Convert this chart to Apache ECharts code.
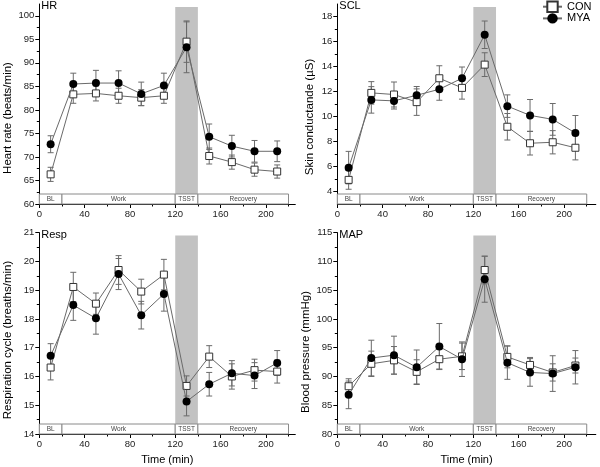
<!DOCTYPE html>
<html><head><meta charset="utf-8">
<script src="https://cdn.jsdelivr.net/npm/echarts@6/dist/echarts.min.js"></script>
<style>html,body{margin:0;padding:0;background:#fff}#c{width:600px;height:467px}</style>
</head><body><div id="c"></div>
<script>
// ---------- data ----------
const times = [10, 30, 50, 70, 90, 110, 130, 150, 170, 190, 210];

const hrCON    = [66.3, 83.3, 83.5, 83.0, 82.6, 83.0, 94.5, 70.2, 68.9, 67.3, 66.9];
const hrCONerr = [1.5, 1.9, 1.6, 1.6, 1.7, 1.6, 4.4, 1.7, 1.5, 1.4, 1.4];
const hrMYA    = [72.7, 85.5, 85.7, 85.7, 83.4, 85.2, 93.3, 74.3, 72.3, 71.2, 71.2];
const hrMYAerr = [1.8, 2.3, 2.7, 2.6, 2.5, 2.6, 5.4, 2.7, 2.3, 2.3, 2.2];

const sclCON    = [4.93, 11.89, 11.76, 11.15, 13.06, 12.29, 14.15, 9.18, 7.86, 7.94, 7.50];
const sclCONerr = [0.75, 0.9, 1.0, 1.06, 1.0, 0.9, 0.95, 1.06, 0.94, 0.93, 0.97];
const sclMYA    = [5.91, 11.33, 11.25, 11.70, 12.18, 13.06, 16.54, 10.83, 10.09, 9.77, 8.68];
const sclMYAerr = [1.3, 1.06, 0.65, 0.7, 0.88, 0.9, 1.1, 0.9, 1.27, 1.27, 1.4];

const respCON    = [16.31, 19.11, 18.53, 19.70, 18.95, 19.54, 15.67, 16.69, 16.00, 16.22, 16.17];
const respCONerr = [0.43, 0.51, 0.37, 0.5, 0.43, 0.53, 0.35, 0.38, 0.44, 0.38, 0.4];
const respMYA    = [16.72, 18.48, 18.02, 19.56, 18.13, 18.87, 15.13, 15.73, 16.11, 16.03, 16.47];
const respMYAerr = [0.42, 0.53, 0.55, 0.54, 0.48, 0.6, 0.5, 0.41, 0.44, 0.45, 0.43];

const mapCON    = [88.3, 92.2, 92.8, 90.8, 93.0, 93.5, 108.5, 93.4, 92.0, 90.7, 91.9];
const mapCONerr = [1.3, 2.2, 2.4, 2.1, 1.7, 2.3, 2.4, 1.9, 1.3, 1.5, 1.3];
const mapMYA    = [86.8, 93.2, 93.7, 91.6, 95.2, 93.0, 106.9, 92.4, 90.7, 90.5, 91.6];
const mapMYAerr = [2.4, 3.1, 3.3, 3.0, 4.0, 3.0, 4.0, 2.9, 2.4, 3.1, 2.9];

const phaseNames = ['BL', 'Work', 'TSST', 'Recovery'];
const phaseStart = [0, 20, 120, 140];
const phaseEnd   = [20, 120, 140, 220];
const stressWindow = [120, 140];

const xTicks      = [0, 40, 80, 120, 160, 200];
const xMinorTicks = [20, 60, 100, 140, 180, 220];
const hrTicks   = [60, 65, 70, 75, 80, 85, 90, 95, 100];
const hrMinor   = [62.5, 67.5, 72.5, 77.5, 82.5, 87.5, 92.5, 97.5];
const sclTicks  = [4, 6, 8, 10, 12, 14, 16, 18];
const sclMinor  = [5, 7, 9, 11, 13, 15, 17];
const respTicks = [14, 15, 16, 17, 18, 19, 20, 21];
const respMinor = [14.5, 15.5, 16.5, 17.5, 18.5, 19.5, 20.5];
const mapTicks  = [80, 85, 90, 95, 100, 105, 110, 115];
const mapMinor  = [82.5, 87.5, 92.5, 97.5, 102.5, 107.5, 112.5];

const seriesNames = ['CON', 'MYA'];

// ---------- layout / style ----------
const FONT = 'Liberation Sans, Arial, Helvetica, sans-serif';
const colL = {left: 39.3, width: 256, xMax: 226};
const colR = {left: 337.3, width: 258.5, xMax: 228};
const rowT = {top: 4, height: 200};
const rowB = {top: 232.6, height: 201.4};
const BOX_H = 10;

const panels = [
  {title: 'HR', yName: 'Heart rate (beats/min)', con: hrCON, conErr: hrCONerr, mya: hrMYA, myaErr: hrMYAerr,
   yMin: 60, yMax: 102.5, ticks: hrTicks, minor: hrMinor, col: colL, row: rowT, namePos: [8.3, 118], xName: false},
  {title: 'SCL', yName: 'Skin conductande (\u00B5S)', con: sclCON, conErr: sclCONerr, mya: sclMYA, myaErr: sclMYAerr,
   yMin: 3, yMax: 19, ticks: sclTicks, minor: sclMinor, col: colR, row: rowT, namePos: [310, 117], xName: false},
  {title: 'Resp', yName: 'Respiration cycle (breaths/min)', con: respCON, conErr: respCONerr, mya: respMYA, myaErr: respMYAerr,
   yMin: 14, yMax: 21, ticks: respTicks, minor: respMinor, col: colL, row: rowB, namePos: [8.3, 340], xName: true},
  {title: 'MAP', yName: 'Blood pressure (mmHg)', con: mapCON, conErr: mapCONerr, mya: mapMYA, myaErr: mapMYAerr,
   yMin: 80, yMax: 115, ticks: mapTicks, minor: mapMinor, col: colR, row: rowB, namePos: [306, 352], xName: true}
];

const grids = [], xAxes = [], yAxes = [], series = [], titles = [], graphics = [];
const ERR_COLOR = '#6a6a6a';
const LINE_COLOR = '#6a6a6a';

function errRender(params, api) {
  const x = api.value(0), lo = api.value(1), hi = api.value(2);
  const a = api.coord([x, lo]), b = api.coord([x, hi]);
  const cw = 3;
  const st = {stroke: ERR_COLOR, lineWidth: 1};
  return {type: 'group', children: [
    {type: 'line', shape: {x1: a[0], y1: a[1], x2: b[0], y2: b[1]}, style: st},
    {type: 'line', shape: {x1: a[0] - cw, y1: a[1], x2: a[0] + cw, y2: a[1]}, style: st},
    {type: 'line', shape: {x1: b[0] - cw, y1: b[1], x2: b[0] + cw, y2: b[1]}, style: st}
  ]};
}

panels.forEach((p, i) => {
  grids.push({left: p.col.left, top: p.row.top, width: p.col.width, height: p.row.height, containLabel: false});
  const xi = 2 * i, yi = 2 * i;
  xAxes.push({
    gridIndex: i, type: 'value', position: 'bottom', min: 0, max: p.col.xMax,
    axisLine: {show: true, lineStyle: {color: '#000', width: 1}},
    axisTick: {show: true, customValues: xTicks, length: 4, lineStyle: {color: '#000'}},
    axisLabel: {customValues: xTicks, fontSize: 9.5, color: '#222', margin: 5, fontFamily: FONT},
    splitLine: {show: false},
    name: p.xName ? 'Time (min)' : '', nameLocation: 'middle', nameGap: 20,
    nameTextStyle: {fontSize: 11, color: '#000', fontFamily: FONT}
  });
  xAxes.push({
    gridIndex: i, type: 'value', position: 'bottom', min: 0, max: p.col.xMax,
    axisLine: {show: false},
    axisTick: {show: true, customValues: xMinorTicks, length: 2.5, lineStyle: {color: '#000'}},
    axisLabel: {show: false}, splitLine: {show: false}
  });
  yAxes.push({
    gridIndex: i, type: 'value', position: 'left', min: p.yMin, max: p.yMax,
    axisLine: {show: true, lineStyle: {color: '#000', width: 1}},
    axisTick: {show: true, customValues: p.ticks, length: 4, lineStyle: {color: '#000'}},
    axisLabel: {customValues: p.ticks, fontSize: 9.5, color: '#222', margin: 5, fontFamily: FONT},
    splitLine: {show: false}
  });
  yAxes.push({
    gridIndex: i, type: 'value', position: 'left', min: p.yMin, max: p.yMax,
    axisLine: {show: false},
    axisTick: {show: true, customValues: p.minor, length: 2.5, lineStyle: {color: '#000'}},
    axisLabel: {show: false}, splitLine: {show: false}
  });

  // stress band
  series.push({
    type: 'custom', name: 'band' + i, xAxisIndex: xi, yAxisIndex: yi, z: 1, silent: true,
    data: [[stressWindow[0], stressWindow[1]]], encode: {x: [0, 1]},
    renderItem: (params, api) => {
      const a = api.coord([api.value(0), p.yMax]);
      const b = api.coord([api.value(1), p.yMin]);
      return {type: 'rect', shape: {x: a[0], y: a[1] + 3, width: b[0] - a[0], height: (b[1] - BOX_H) - (a[1] + 3)},
              style: {fill: '#c2c2c2'}};
    }
  });
  // phase boxes
  series.push({
    type: 'custom', name: 'phase' + i, xAxisIndex: xi, yAxisIndex: yi, z: 2, silent: true,
    data: phaseStart.map((s, k) => [s, phaseEnd[k], k]), encode: {x: [0, 1]},
    renderItem: (params, api) => {
      const a = api.coord([api.value(0), p.yMin]);
      const b = api.coord([api.value(1), p.yMin]);
      const k = api.value(2);
      return {type: 'group', children: [
        {type: 'rect', shape: {x: a[0], y: a[1] - BOX_H, width: b[0] - a[0], height: BOX_H},
         style: {fill: '#fff', stroke: '#8a8a8a', lineWidth: 1}},
        {type: 'text', style: {text: phaseNames[k], x: (a[0] + b[0]) / 2, y: a[1] - BOX_H / 2,
          align: 'center', verticalAlign: 'middle', fontSize: 6.5, fontFamily: FONT, fill: '#444'}}
      ]};
    }
  });
  // error bars
  [[p.con, p.conErr], [p.mya, p.myaErr]].forEach(([v, e], s) => {
    series.push({
      type: 'custom', name: 'err' + i + '_' + s, xAxisIndex: xi, yAxisIndex: yi, z: 3, silent: true,
      data: times.map((t, k) => [t, v[k] - e[k], v[k] + e[k]]), encode: {x: 0, y: [1, 2]},
      renderItem: errRender
    });
  });
  // lines
  series.push({
    type: 'line', name: seriesNames[0], xAxisIndex: xi, yAxisIndex: yi, z: 4,
    data: times.map((t, k) => [t, p.con[k]]),
    symbol: 'rect', symbolSize: 7,
    lineStyle: {color: LINE_COLOR, width: 1},
    itemStyle: {color: '#fff', borderColor: '#333', borderWidth: 1},
    emphasis: {disabled: true}
  });
  series.push({
    type: 'line', name: seriesNames[1], xAxisIndex: xi, yAxisIndex: yi, z: 5,
    data: times.map((t, k) => [t, p.mya[k]]),
    symbol: 'circle', symbolSize: 8,
    lineStyle: {color: LINE_COLOR, width: 1},
    itemStyle: {color: '#000', borderColor: '#000', borderWidth: 0},
    emphasis: {disabled: true}
  });

  titles.push({text: p.title, left: p.col.left + 2, top: p.row.top - 3.5, padding: 0,
    textStyle: {fontSize: 11, fontWeight: 'normal', color: '#000', fontFamily: FONT}});
  graphics.push({type: 'text', x: p.namePos[0], y: p.namePos[1], rotation: Math.PI / 2,
    style: {text: p.yName, fontSize: 11.5, fontFamily: FONT, fill: '#000', align: 'center', verticalAlign: 'middle'}});
});

const chart = echarts.init(document.getElementById('c'), null, {renderer: 'canvas'});
chart.setOption({
  animation: false,
  backgroundColor: '#fff',
  title: titles,
  grid: grids,
  xAxis: xAxes,
  yAxis: yAxes,
  legend: {
    data: seriesNames, orient: 'vertical', left: 542, top: 0.5, padding: 0,
    itemWidth: 19, itemHeight: 13, itemGap: 0, selectedMode: false,
    textStyle: {fontSize: 11, color: '#000', fontFamily: FONT}
  },
  graphic: graphics,
  series: series
});
</script>
</body></html>
